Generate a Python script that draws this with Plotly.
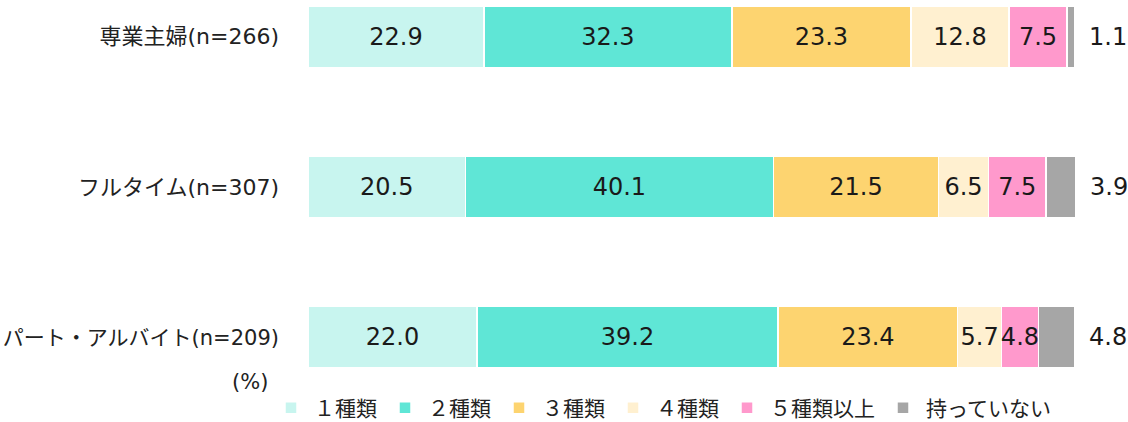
import plotly.graph_objects as go

categories = ["専業主婦(n=266)", "フルタイム(n=307)", "パート・アルバイト(n=209)"]
legend_labels = ["１種類", "２種類", "３種類", "４種類", "５種類以上", "持っていない"]
values = [
    [22.9, 20.5, 22.0],
    [32.3, 40.1, 39.2],
    [23.3, 21.5, 23.4],
    [12.8, 6.5, 5.7],
    [7.5, 7.5, 4.8],
    [1.1, 3.9, 4.8],
]
colors = ["#C8F5EF", "#5FE6D6", "#FDD470", "#FFF0D0", "#FF99CC", "#A6A6A6"]

num_font = "DejaVu Sans, Verdana, sans-serif"
jp_font = "DejaVu Sans, Noto Sans CJK JP, sans-serif"

fig = go.Figure()
n_series = len(legend_labels)
for i, name in enumerate(legend_labels):
    last = i == n_series - 1
    fig.add_trace(go.Bar(
        y=categories,
        x=values[i],
        name=name,
        orientation="h",
        marker=dict(color=colors[i], line=dict(color="white", width=1.5)),
        text=None if last else [f"{v:.1f}" for v in values[i]],
        textposition="inside",
        insidetextanchor="middle",
        textangle=0,
        constraintext="none",
        cliponaxis=False,
        textfont=dict(family=num_font, size=24, color="#1a1a1a"),
    ))

# labels for the last series, placed just past the end of each stacked bar
annotations = []
for j, cat in enumerate(categories):
    total = sum(values[k][j] for k in range(n_series))
    annotations.append(dict(
        x=total, y=cat, xref="x", yref="y",
        text=f"{values[-1][j]:.1f}", showarrow=False,
        xanchor="left", yanchor="middle", xshift=12,
        font=dict(family=num_font, size=24, color="#1a1a1a"),
    ))
annotations.append(dict(
    text="(%)", xref="paper", yref="paper", x=-0.0755, y=-0.027,
    xanchor="center", yanchor="middle", showarrow=False,
    font=dict(family=jp_font, size=21, color="#222"),
))

tick_text = [
    categories[0],
    categories[1],
    '<span style="font-size:21px">' + categories[2] + "</span>",
]

fig.update_layout(
    barmode="stack",
    bargap=0.59,
    width=1128,
    height=422,
    plot_bgcolor="white",
    paper_bgcolor="white",
    margin=dict(l=308, r=52, t=5, b=50, autoexpand=False),
    showlegend=True,
    legend=dict(
        orientation="h",
        xref="paper", x=(268 - 308) / 768, xanchor="left",
        yref="paper", y=(372 - 408) / 367, yanchor="middle",
        font=dict(family="Noto Sans CJK JP, sans-serif", size=21, color="#222"),
        itemwidth=36,
        traceorder="normal",
        bgcolor="rgba(0,0,0,0)",
    ),
    annotations=annotations,
)
fig.update_xaxes(range=[0, 100], visible=False, fixedrange=True)
fig.update_yaxes(
    categoryorder="array", categoryarray=categories,
    tickmode="array", tickvals=categories, ticktext=tick_text,
    range=[2.23, -0.21], automargin=False,
    showline=False, showgrid=False, zeroline=False,
    ticks="", ticklabelstandoff=28,
    tickfont=dict(family=jp_font, size=22, color="#222"),
)

fig.write_html(
    "out.html",
    config={"displayModeBar": False},
    post_script="document.body.style.margin='0';document.body.style.overflow='hidden';",
)
